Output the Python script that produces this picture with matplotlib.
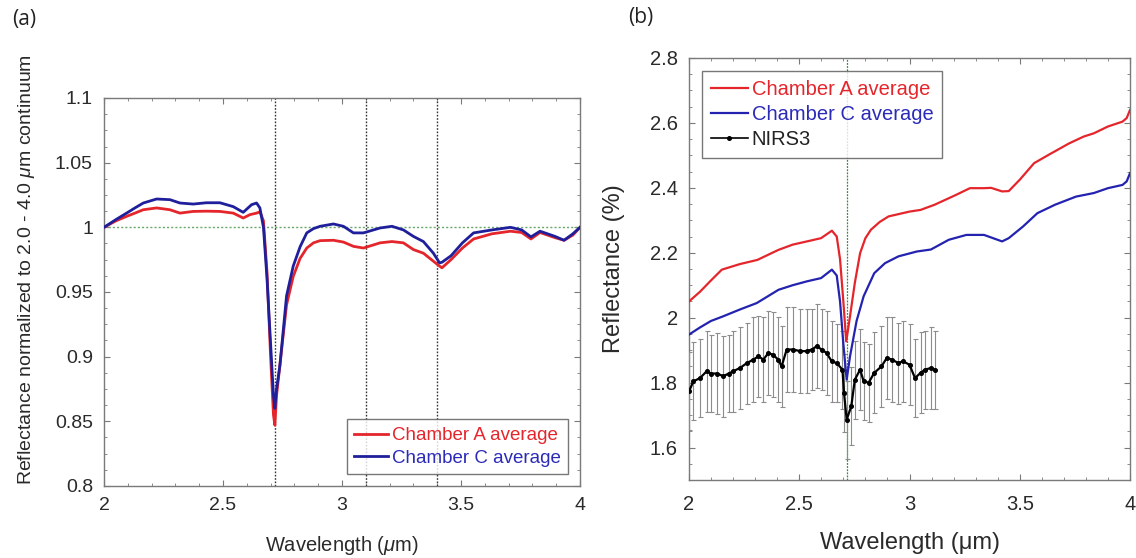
import matplotlib
matplotlib.use("Agg")
import matplotlib.pyplot as plt
from matplotlib.ticker import MultipleLocator, FuncFormatter
from matplotlib.lines import Line2D

plt.rcParams['font.family'] = ['Liberation Sans', 'DejaVu Sans']
plt.rcParams['mathtext.fontset'] = 'custom'
plt.rcParams['mathtext.rm'] = 'Liberation Sans'
plt.rcParams['mathtext.it'] = 'Liberation Sans:italic'

# ---------------- Panel (a) data ----------------
wl_a_A = [2.0, 2.05, 2.095, 2.13, 2.165, 2.221, 2.277, 2.319, 2.375, 2.43, 2.487, 2.543, 2.585, 2.613,
          2.641, 2.655, 2.67, 2.685, 2.70, 2.712, 2.718, 2.725, 2.74, 2.767, 2.795, 2.824, 2.852, 2.88,
          2.908, 2.964, 3.006, 3.048, 3.09, 3.16, 3.21, 3.258, 3.30, 3.342, 3.384, 3.41, 3.42, 3.458,
          3.506, 3.553, 3.63, 3.708, 3.755, 3.794, 3.832, 3.895, 3.933, 3.97, 4.0]
refl_a_A = [1.0, 1.005, 1.0085, 1.011, 1.0136, 1.015, 1.0136, 1.011, 1.0123, 1.0125, 1.0123, 1.011, 1.0072, 1.0098,
            1.011, 1.012, 1.005, 0.965, 0.90, 0.855, 0.847, 0.87, 0.895, 0.94, 0.962, 0.976, 0.984, 0.988,
            0.9897, 0.990, 0.9886, 0.9853, 0.984, 0.988, 0.989, 0.988, 0.9828, 0.980, 0.9738, 0.970, 0.9687, 0.975,
            0.984, 0.991, 0.995, 0.997, 0.996, 0.991, 0.996, 0.992, 0.990, 0.994, 1.0]

wl_a_C = [2.0, 2.05, 2.095, 2.13, 2.165, 2.221, 2.277, 2.319, 2.375, 2.43, 2.487, 2.543, 2.585, 2.62,
          2.641, 2.655, 2.67, 2.685, 2.70, 2.712, 2.718, 2.725, 2.739, 2.767, 2.795, 2.824, 2.852, 2.88,
          2.908, 2.964, 3.006, 3.048, 3.09, 3.16, 3.21, 3.258, 3.30, 3.342, 3.384, 3.41, 3.42, 3.458,
          3.506, 3.553, 3.63, 3.708, 3.755, 3.794, 3.832, 3.895, 3.933, 3.97, 4.0]
refl_a_C = [1.0, 1.006, 1.011, 1.015, 1.0188, 1.0219, 1.0214, 1.0188, 1.018, 1.019, 1.019, 1.016, 1.0116, 1.0175,
            1.0188, 1.015, 1.0, 0.96, 0.91, 0.87, 0.86, 0.875, 0.893, 0.947, 0.970, 0.985, 0.9957, 0.999,
            1.0008, 1.0026, 1.0008, 0.9957, 0.9957, 0.9995, 1.0008, 0.998, 0.993, 0.989, 0.980, 0.9725, 0.973, 0.978,
            0.988, 0.9957, 0.998, 1.0, 0.998, 0.9926, 0.997, 0.993, 0.990, 0.995, 1.0]

band_lines_a = [2.72, 3.1, 3.4]

# ---------------- Panel (b) data ----------------
wl_b_A = [2.0, 2.05, 2.10, 2.149, 2.23, 2.31, 2.406, 2.47, 2.535, 2.599, 2.648, 2.67, 2.685, 2.70, 2.713,
          2.725, 2.752, 2.776, 2.80, 2.825, 2.865, 2.905, 3.001, 3.05, 3.114, 3.21, 3.274, 3.338, 3.37,
          3.42, 3.45, 3.50, 3.565, 3.629, 3.724, 3.79, 3.836, 3.90, 3.966, 3.985, 4.0]
refl_b_A = [2.05, 2.08, 2.115, 2.148, 2.165, 2.178, 2.209, 2.225, 2.235, 2.245, 2.268, 2.25, 2.18, 2.05, 1.927,
            1.98, 2.107, 2.199, 2.245, 2.271, 2.295, 2.312, 2.327, 2.332, 2.348, 2.378, 2.399, 2.399, 2.40,
            2.389, 2.39, 2.425, 2.476, 2.501, 2.537, 2.558, 2.568, 2.589, 2.604, 2.615, 2.64]

wl_b_C = [2.0, 2.05, 2.10, 2.154, 2.23, 2.307, 2.406, 2.47, 2.535, 2.599, 2.648, 2.67, 2.685, 2.70, 2.715,
          2.73, 2.76, 2.792, 2.84, 2.889, 2.95, 3.034, 3.097, 3.178, 3.258, 3.338, 3.42, 3.45, 3.515,
          3.58, 3.66, 3.755, 3.836, 3.90, 3.966, 3.985, 4.0]
refl_b_C = [1.948, 1.97, 1.99, 2.004, 2.025, 2.045, 2.086, 2.10, 2.112, 2.122, 2.148, 2.13, 2.05, 1.92, 1.809,
            1.88, 1.99, 2.066, 2.137, 2.168, 2.189, 2.204, 2.21, 2.24, 2.255, 2.255, 2.235, 2.245, 2.281,
            2.322, 2.348, 2.373, 2.384, 2.399, 2.409, 2.42, 2.445]

wl_nirs = [2.0, 2.02, 2.05, 2.08, 2.10, 2.126, 2.156, 2.18, 2.20, 2.231, 2.262, 2.292, 2.315, 2.337,
           2.36, 2.38, 2.405, 2.42, 2.443, 2.473, 2.503, 2.534, 2.557, 2.579, 2.602, 2.624, 2.647,
           2.67, 2.696, 2.703, 2.715, 2.736, 2.752, 2.776, 2.792, 2.815, 2.84, 2.873, 2.897, 2.92,
           2.95, 2.97, 3.0, 3.025, 3.05, 3.07, 3.097, 3.114]
refl_nirs = [1.773, 1.804, 1.814, 1.835, 1.828, 1.828, 1.82, 1.828, 1.835, 1.845, 1.86, 1.871, 1.881, 1.871,
             1.891, 1.886, 1.871, 1.85, 1.902, 1.902, 1.897, 1.897, 1.902, 1.912, 1.902, 1.891, 1.866,
             1.86, 1.84, 1.769, 1.686, 1.727, 1.809, 1.84, 1.804, 1.80, 1.83, 1.85, 1.876, 1.871,
             1.86, 1.866, 1.855, 1.814, 1.83, 1.84, 1.845, 1.84]
err_nirs = [0.12, 0.12, 0.12, 0.125, 0.12, 0.125, 0.125, 0.12, 0.125, 0.125, 0.125, 0.13, 0.125, 0.13,
            0.13, 0.13, 0.13, 0.125, 0.13, 0.13, 0.13, 0.13, 0.125, 0.13, 0.125, 0.13, 0.125,
            0.12, 0.12, 0.12, 0.12, 0.12, 0.12, 0.125, 0.12, 0.12, 0.125, 0.125, 0.125, 0.13,
            0.125, 0.125, 0.125, 0.12, 0.125, 0.12, 0.125, 0.12]

band_line_b = 2.715

RED = '#e4262c'
BLUE = '#1f1f9c'
BLUE_B = '#2323b0'
TXT = '#2a2a2a'
SPINE = '#7a7a7a'

fig = plt.figure(figsize=(11.36, 5.58), dpi=100)
axA = fig.add_axes([104/1136, 1-486/558, 476/1136, 388/558])
axB = fig.add_axes([689/1136, 1-480/558, 441/1136, 422/558])

def style(ax, size, pad):
    for s in ax.spines.values():
        s.set_color(SPINE)
        s.set_linewidth(1.0)
    ax.tick_params(which='both', direction='in', top=True, right=True, colors=SPINE,
                   labelcolor=TXT, labelsize=size, pad=pad)
    ax.tick_params(which='major', length=4)
    ax.tick_params(which='minor', length=2)

fmt = FuncFormatter(lambda v, p: ('%.2f' % v).rstrip('0').rstrip('.'))

# ---- panel (a)
axA.plot(wl_a_A, refl_a_A, color=RED, lw=2.0, label='Chamber A average', zorder=3)
axA.plot(wl_a_C, refl_a_C, color=BLUE, lw=2.0, label='Chamber C average', zorder=4)
axA.axhline(1.0, color='#6aa86a', lw=1.0, ls=(0, (1.5, 1.5)), zorder=2)
for b in band_lines_a:
    axA.axvline(b, color='#333333', lw=1.0, ls=(0, (1.2, 1.2)), zorder=2)
axA.set_xlim(2, 4)
axA.set_ylim(0.8, 1.1)
axA.xaxis.set_major_locator(MultipleLocator(0.5))
axA.xaxis.set_minor_locator(MultipleLocator(0.1))
axA.yaxis.set_major_locator(MultipleLocator(0.05))
axA.yaxis.set_minor_locator(MultipleLocator(0.0125))
axA.xaxis.set_major_formatter(fmt)
axA.yaxis.set_major_formatter(fmt)
style(axA, 14, 8)
axA.set_xlabel(r'Wavelength ($\mu$m)', fontsize=14.5, color=TXT, labelpad=14)
axA.set_ylabel(r'Reflectance normalized to 2.0 - 4.0 $\mu$m continuum', fontsize=14, color=TXT, labelpad=4)
axA.yaxis.set_label_coords(-0.14, 0.557)
legA = axA.legend(loc='lower right', bbox_to_anchor=(0.975, 0.03), fontsize=13.5, frameon=True,
                  fancybox=False, edgecolor='#555555', handlelength=1.8, handletextpad=0.2,
                  borderpad=0.4, labelspacing=0.3, borderaxespad=0)
legA.get_frame().set_linewidth(1.0)
for t, c in zip(legA.get_texts(), [RED, '#2b2bb8']):
    t.set_color(c)

# ---- panel (b)
axB.errorbar(wl_nirs, refl_nirs, yerr=err_nirs, color='black', lw=1.6, marker='o', ms=2.6,
             ecolor='#8c8c8c', elinewidth=0.8, capsize=1.8, capthick=0.8, zorder=3)
lnA, = axB.plot(wl_b_A, refl_b_A, color=RED, lw=1.6, zorder=4)
lnC, = axB.plot(wl_b_C, refl_b_C, color=BLUE_B, lw=1.6, zorder=4)
axB.axvline(band_line_b, color='#3a8a3a', lw=0.9, ls=(0, (1.5, 1)), zorder=2)
axB.set_xlim(2, 4)
axB.set_ylim(1.5, 2.8)
axB.xaxis.set_major_locator(MultipleLocator(0.5))
axB.xaxis.set_minor_locator(MultipleLocator(0.1))
axB.yaxis.set_major_locator(MultipleLocator(0.2))
axB.yaxis.set_minor_locator(MultipleLocator(0.05))
axB.xaxis.set_major_formatter(fmt)
axB.yaxis.set_major_formatter(fmt)
style(axB, 14.5, 8)
axB.tick_params(axis='x', pad=11)
axB.set_xlabel('Wavelength (\u03bcm)', fontsize=17, color=TXT, labelpad=13)
axB.set_ylabel('Reflectance (%)', fontsize=17, color=TXT, labelpad=18)
proxy_nirs = Line2D([], [], color='black', lw=1.2, marker='o', ms=2.6)
legB = axB.legend([lnA, lnC, proxy_nirs], ['Chamber A average', 'Chamber C average', 'NIRS3'],
                  loc='upper left', bbox_to_anchor=(0.03, 0.97), fontsize=14.5, frameon=True,
                  fancybox=False, edgecolor='#555555', handlelength=1.8, handletextpad=0.2,
                  borderpad=0.45, labelspacing=0.3, borderaxespad=0)
legB.get_frame().set_linewidth(1.0)
for t, c in zip(legB.get_texts(), [RED, '#2b2bb8', '#222222']):
    t.set_color(c)

fig.text(12/1136, 1-20/558, '(a)', fontsize=15, color='#222222', va='center', ha='left',
         family=['Open Sans', 'DejaVu Sans'])
fig.text(628/1136, 1-18/558, '(b)', fontsize=15, color='#222222', va='center', ha='left',
         family=['Open Sans', 'DejaVu Sans'])

fig.savefig('out.png', dpi=100)
